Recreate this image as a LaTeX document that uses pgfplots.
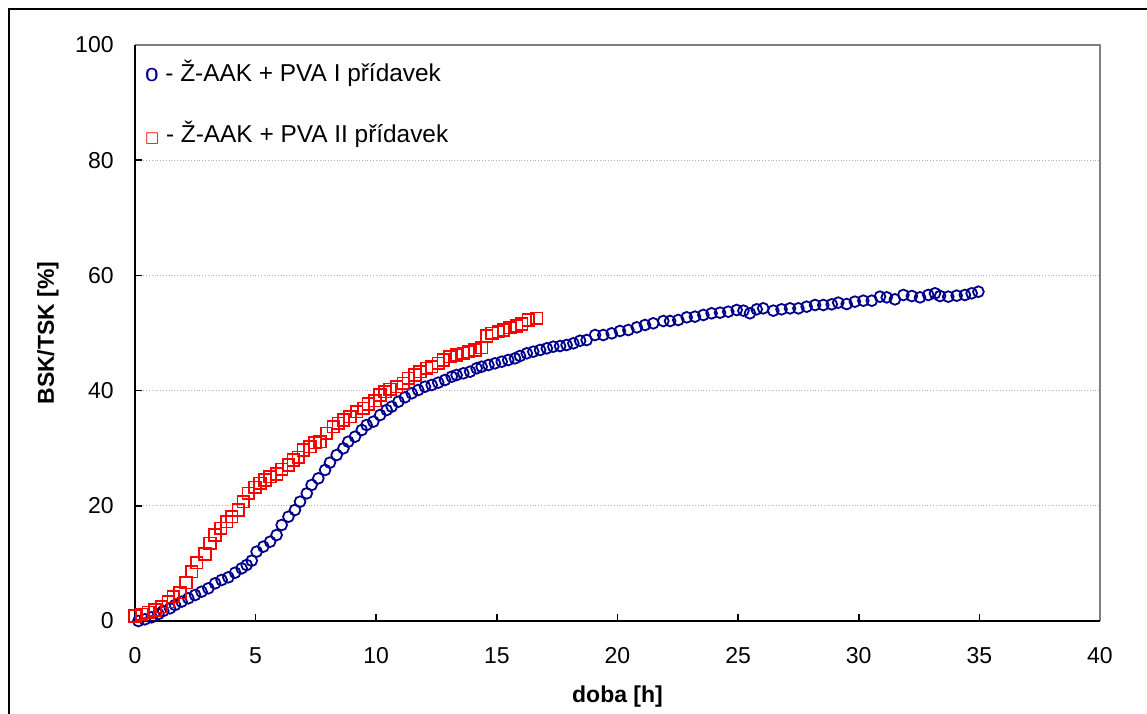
\documentclass[border=0pt]{standalone}
\usepackage{pgfplots}
\pgfplotsset{compat=1.18}
\usepackage{fontspec}
\setmainfont{Liberation Sans}
\newfontfamily\dejavu{DejaVu Sans}
\definecolor{navyb}{RGB}{0,0,140}
\definecolor{gridg}{RGB}{175,175,175}
\definecolor{frameg}{RGB}{128,128,128}
\begin{document}
\begin{tikzpicture}[x=0.5pt,y=0.5pt]
\begin{axis}[
  at={(67.5pt,46pt)}, anchor=south west,
  scale only axis, width=482.5pt, height=288pt,
  xmin=0, xmax=40, ymin=0, ymax=100,
  xtick={0,5,...,40}, ytick={0,20,...,100},
  axis line style={draw=none},
  tick align=inside, tick pos=left,
  major tick length=3.5pt,
  tick style={black, line width=0.8pt},
  ymajorgrids, major grid style={gridg, densely dotted, line width=0.5pt},
  /pgf/number format/assume math mode=true,
  tick label style={font=\fontsize{11.5}{13}\selectfont},
  yticklabel style={anchor=east, inner sep=0pt, xshift=-10.5pt},
  xticklabel style={anchor=north, inner sep=0pt, yshift=-13pt},
  clip=false,
]
\draw[frameg, line width=0.8pt] (axis cs:0,100) -- (axis cs:40,100) -- (axis cs:40,0);
\draw[black, line width=1.1pt] (axis cs:0,100) -- (axis cs:0,0) -- (axis cs:40,0);
\addplot[only marks, mark=o, mark size=2.7pt, navyb, mark options={line width=0.9pt}] coordinates {
(0.14,0.0) (0.41,0.29) (0.69,0.64) (0.97,1.22) (1.17,1.74) (1.45,2.20) (1.66,2.78) (1.93,3.36)
(2.21,3.94) (2.49,4.51) (2.76,5.09) (3.04,5.67) (3.32,6.54) (3.59,7.12) (3.87,7.58) (4.15,8.39)
(4.42,9.14) (4.63,9.72) (4.84,10.47) (5.04,12.04) (5.32,12.91) (5.60,13.77) (5.87,14.93) (6.08,16.67)
(6.36,18.11) (6.63,19.27) (6.84,20.71) (7.12,22.16) (7.32,23.61) (7.60,24.77) (7.88,26.22) (8.08,27.49)
(8.36,28.82) (8.64,29.98) (8.84,31.13) (9.12,32.00) (9.40,33.16) (9.60,34.03) (9.88,34.61) (10.16,35.76)
(10.43,36.63) (10.64,37.21) (10.92,38.08) (11.19,38.83) (11.47,39.53) (11.74,40.10) (12.02,40.68) (12.30,40.97)
(12.57,41.38) (12.85,41.84) (13.13,42.42) (13.33,42.71) (13.61,43.00) (13.89,43.29) (14.16,43.87) (14.37,44.15)
(14.65,44.44) (14.92,44.73) (15.20,45.02) (15.47,45.31) (15.75,45.60) (15.96,46.01) (16.24,46.47) (16.51,46.76)
(16.79,47.05) (17.07,47.34) (17.34,47.63) (17.62,47.74) (17.89,47.92) (18.17,48.21) (18.45,48.66) (18.72,48.78)
(19.07,49.65) (19.41,49.65) (19.76,49.94) (20.10,50.35) (20.45,50.52) (20.80,50.98) (21.14,51.39) (21.48,51.68)
(21.90,52.08) (22.18,52.08) (22.52,52.26) (22.87,52.72) (23.21,52.84) (23.56,53.13) (23.90,53.42) (24.25,53.53)
(24.59,53.70) (24.94,53.99) (25.22,53.88) (25.49,53.42) (25.77,54.11) (26.04,54.28) (26.46,53.88) (26.80,54.11)
(27.15,54.28) (27.50,54.28) (27.84,54.57) (28.19,54.86) (28.53,54.86) (28.88,54.98) (29.15,55.27) (29.50,55.03)
(29.84,55.44) (30.19,55.61) (30.54,55.61) (30.88,56.31) (31.16,56.19) (31.50,55.84) (31.85,56.60) (32.20,56.42)
(32.54,56.19) (32.88,56.60) (33.16,56.89) (33.37,56.42) (33.71,56.31) (34.06,56.48) (34.40,56.60) (34.68,56.89)
(34.96,57.17)
};
\addplot[only marks, mark=square, mark size=2.9pt, red, mark options={line width=0.9pt}] coordinates {
(0.00,0.87) (0.28,1.16) (0.55,1.50) (0.83,1.91) (1.10,2.49) (1.38,3.36) (1.59,4.23) (1.87,4.92)
(2.11,6.66) (2.35,8.56) (2.56,10.13) (2.90,11.63) (3.11,13.48) (3.32,14.93) (3.55,16.08) (3.80,17.24)
(4.01,18.11) (4.28,19.27) (4.49,20.71) (4.70,22.16) (4.97,23.20) (5.18,23.90) (5.39,24.48) (5.60,25.06)
(5.87,25.52) (6.08,26.33) (6.36,27.08) (6.56,27.95) (6.77,28.41) (6.98,29.69) (7.25,30.27) (7.46,30.96)
(7.67,31.13) (7.94,32.58) (8.22,33.74) (8.43,34.32) (8.64,34.90) (8.91,35.47) (9.19,36.34) (9.47,36.92)
(9.67,37.67) (9.95,38.25) (10.16,39.24) (10.36,39.81) (10.57,40.22) (10.85,40.68) (11.12,41.26) (11.33,42.13)
(11.61,42.71) (11.81,43.29) (12.09,43.87) (12.30,44.15) (12.57,44.73) (12.78,45.31) (13.06,45.89) (13.33,46.18)
(13.61,46.47) (13.82,46.76) (14.09,47.05) (14.37,47.45) (14.58,49.48) (14.79,49.94) (15.06,50.23) (15.27,50.52)
(15.54,50.93) (15.82,51.22) (16.03,51.56) (16.30,52.26) (16.65,52.55)
};
\node[anchor=west, inner sep=0pt, font=\fontsize{12.2}{14}\selectfont] at (axis cs:0.4,95.1) {\textcolor{navyb}{o} - Ž-AAK + PVA I přídavek};
\node[anchor=west, inner sep=0pt, font=\fontsize{12.2}{14}\selectfont] at (axis cs:0.4,84.4) {\textcolor{red}{\dejavu\fontsize{7.5}{9}\selectfont □} - Ž-AAK + PVA II přídavek};
\end{axis}
\node[rotate=90, font=\fontsize{11.5}{13}\selectfont\bfseries] at (48,380) {BSK/TSK [\%]};
\node[font=\fontsize{11.5}{13}\selectfont\bfseries] at (617.5,16) {doba [h]};
\draw[black, line width=1pt] (8.5,-60) -- (8.5,703.5) -- (1220,703.5);
\pgfresetboundingbox
\useasboundingbox (0,0) rectangle (1147,713);
\end{tikzpicture}
\end{document}
